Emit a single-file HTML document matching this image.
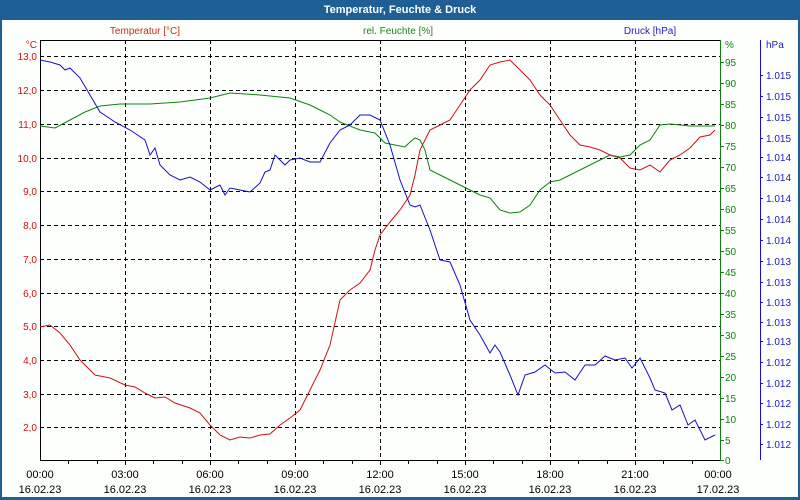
<!DOCTYPE html>
<html><head><meta charset="utf-8"><style>
html,body{margin:0;padding:0;background:#fff;}
svg{display:block;font-family:"Liberation Sans",Tahoma,sans-serif;}
</style></head><body>
<svg width="800" height="500" viewBox="0 0 800 500" xmlns="http://www.w3.org/2000/svg">
<rect x="0" y="0" width="800" height="500" fill="#1e5f96"/>
<rect x="2" y="20" width="796" height="477" fill="#fdfffd"/>
<text x="400" y="13" fill="#fff" font-size="11" font-weight="bold" text-anchor="middle">Temperatur, Feuchte &amp; Druck</text>
<text x="145" y="34" fill="#c03010" font-size="10" text-anchor="middle">Temperatur [°C]</text>
<text x="398" y="34" fill="#208020" font-size="10" text-anchor="middle">rel. Feuchte [%]</text>
<text x="650" y="34" fill="#2020c0" font-size="10" text-anchor="middle">Druck [hPa]</text>
<g stroke="#000" stroke-dasharray="4,3" stroke-width="1">
<line x1="40" x2="720" y1="56.5" y2="56.5"/><line x1="40" x2="720" y1="90.5" y2="90.5"/>
<line x1="40" x2="720" y1="124.5" y2="124.5"/><line x1="40" x2="720" y1="158.5" y2="158.5"/>
<line x1="40" x2="720" y1="191.5" y2="191.5"/><line x1="40" x2="720" y1="225.5" y2="225.5"/>
<line x1="40" x2="720" y1="259.5" y2="259.5"/><line x1="40" x2="720" y1="293.5" y2="293.5"/>
<line x1="40" x2="720" y1="326.5" y2="326.5"/><line x1="40" x2="720" y1="360.5" y2="360.5"/>
<line x1="40" x2="720" y1="394.5" y2="394.5"/><line x1="40" x2="720" y1="427.5" y2="427.5"/>
<line y1="40" y2="460" x1="125.5" x2="125.5"/><line y1="40" y2="460" x1="210.5" x2="210.5"/>
<line y1="40" y2="460" x1="295.5" x2="295.5"/><line y1="40" y2="460" x1="380.5" x2="380.5"/>
<line y1="40" y2="460" x1="465.5" x2="465.5"/><line y1="40" y2="460" x1="550.5" x2="550.5"/>
<line y1="40" y2="460" x1="635.5" x2="635.5"/>
</g>
<g stroke="#000" stroke-width="1">
<line x1="40" x2="720" y1="40.5" y2="40.5"/><line x1="40.5" x2="40.5" y1="40" y2="461"/>
<line x1="40" x2="720" y1="460.5" y2="460.5"/>
<path d="M68.5 460v4M97.5 460v4M125.5 460v5M153.5 460v4M182.5 460v4M210.5 460v5M238.5 460v4M267.5 460v4M295.5 460v5M323.5 460v4M352.5 460v4M380.5 460v5M408.5 460v4M437.5 460v4M465.5 460v5M493.5 460v4M522.5 460v4M550.5 460v5M578.5 460v4M607.5 460v4M635.5 460v5M663.5 460v4M692.5 460v4"/>
</g>
<line x1="720.5" x2="720.5" y1="40" y2="461" stroke="#108010"/>
<line x1="760.5" x2="760.5" y1="40" y2="460" stroke="#1010d0"/>
<g font-size="10" fill="#d01010" text-anchor="end">
<text x="37" y="48">°C</text>
<text x="37" y="60">13,0</text><text x="37" y="94">12,0</text><text x="37" y="128">11,0</text><text x="37" y="162">10,0</text>
<text x="37" y="195">9,0</text><text x="37" y="229">8,0</text><text x="37" y="263">7,0</text><text x="37" y="297">6,0</text>
<text x="37" y="330">5,0</text><text x="37" y="364">4,0</text><text x="37" y="398">3,0</text><text x="37" y="431">2,0</text>
</g>
<g font-size="10" fill="#108010">
<text x="725" y="48">%</text>
<text x="725" y="66">95</text><text x="725" y="87">90</text><text x="725" y="108">85</text><text x="725" y="129">80</text>
<text x="725" y="150">75</text><text x="725" y="171">70</text><text x="725" y="192">65</text><text x="725" y="213">60</text>
<text x="725" y="234">55</text><text x="725" y="255">50</text><text x="725" y="276">45</text><text x="725" y="297">40</text>
<text x="725" y="318">35</text><text x="725" y="339">30</text><text x="725" y="360">25</text><text x="725" y="381">20</text>
<text x="725" y="402">15</text><text x="725" y="423">10</text><text x="725" y="444">5</text><text x="725" y="464">0</text>
</g>
<path stroke="#108010" d="M720 62.5h4M720 83.5h4M720 104.5h4M720 125.5h4M720 146.5h4M720 167.5h4M720 188.5h4M720 209.5h4M720 230.5h4M720 251.5h4M720 272.5h4M720 293.5h4M720 314.5h4M720 335.5h4M720 356.5h4M720 377.5h4M720 398.5h4M720 419.5h4M720 440.5h4M720 460.5h4"/>
<g font-size="10" fill="#2020c0">
<text x="766" y="48">hPa</text>
<text x="766" y="79">1.015</text><text x="766" y="100">1.015</text><text x="766" y="121">1.015</text><text x="766" y="142">1.015</text>
<text x="766" y="161">1.014</text><text x="766" y="181">1.014</text><text x="766" y="202">1.014</text><text x="766" y="223">1.014</text><text x="766" y="244">1.014</text>
<text x="766" y="265">1.013</text><text x="766" y="286">1.013</text><text x="766" y="306">1.013</text><text x="766" y="326">1.013</text><text x="766" y="345">1.013</text>
<text x="766" y="366">1.012</text><text x="766" y="387">1.012</text><text x="766" y="407">1.012</text><text x="766" y="428">1.012</text><text x="766" y="448">1.012</text>
</g>
<path stroke="#1010d0" d="M760 75.5h3M760 96.5h3M760 117.5h3M760 138.5h3M760 157.5h3M760 177.5h3M760 198.5h3M760 219.5h3M760 240.5h3M760 261.5h3M760 282.5h3M760 302.5h3M760 322.5h3M760 341.5h3M760 362.5h3M760 383.5h3M760 403.5h3M760 424.5h3M760 444.5h3"/>
<g font-size="11" fill="#000" text-anchor="middle">
<text x="40" y="478">00:00</text><text x="125" y="478">03:00</text><text x="210" y="478">06:00</text><text x="295" y="478">09:00</text>
<text x="380" y="478">12:00</text><text x="465" y="478">15:00</text><text x="550" y="478">18:00</text><text x="635" y="478">21:00</text><text x="718" y="478">00:00</text>
<text x="40" y="493">16.02.23</text><text x="125" y="493">16.02.23</text><text x="210" y="493">16.02.23</text><text x="295" y="493">16.02.23</text>
<text x="380" y="493">16.02.23</text><text x="465" y="493">16.02.23</text><text x="550" y="493">16.02.23</text><text x="635" y="493">16.02.23</text><text x="718" y="493">17.02.23</text>
</g>
<g fill="none" stroke-width="1">
<polyline stroke="#d01010" points="40,327 50,325 60,333 70,345 80,360 95,375 110,378 125,385 135,387 145,393 155,398 165,397 175,403 190,408 200,413 210,425 220,435 230,440 240,437 250,438 260,435 270,434 280,425 290,418 300,410 310,390 320,370 330,345 340,300 350,290 360,283 370,270 375,250 380,235 390,222 400,210 410,195 415,175 420,150 430,130 440,125 450,120 460,105 470,90 480,80 490,65 500,62 510,60 520,70 530,80 540,95 550,105 560,120 570,135 580,145 590,147 600,150 610,155 620,158 630,168 640,170 650,165 660,172 670,160 680,155 690,148 700,137 710,135 715,130"/>
<polyline stroke="#108010" points="40,126 55,128 70,120 85,112 100,106 120,104 150,104 180,102 210,98 230,93 260,95 290,98 310,105 330,115 340,122 350,126 360,130 375,133 385,143 395,145 405,147 410,142 415,138 420,140 425,150 430,170 440,175 450,180 460,185 470,190 480,195 490,198 500,210 510,213 520,212 530,205 540,190 550,182 560,180 580,170 600,160 610,155 620,157 630,155 640,145 650,140 660,125 670,124 690,126 715,126"/>
<polyline stroke="#1010d0" points="40,60 50,62 60,65 65,70 70,68 80,78 90,95 100,112 115,122 130,130 145,140 150,155 155,148 160,165 170,175 180,180 190,177 200,182 210,190 220,185 225,195 230,188 240,190 250,192 260,183 265,172 270,170 275,155 280,160 285,165 290,160 300,158 310,162 320,162 330,143 340,130 350,125 360,115 370,115 380,120 390,145 400,180 410,205 415,207 420,205 430,230 440,260 450,262 460,285 470,320 480,335 490,353 495,345 500,352 510,375 518,395 525,375 535,372 545,365 555,373 565,372 575,380 585,365 595,365 605,356 615,360 625,358 632,368 640,358 650,378 655,390 665,393 672,410 680,405 688,425 695,420 705,440 715,435"/>
</g>
</svg>
</body></html>
